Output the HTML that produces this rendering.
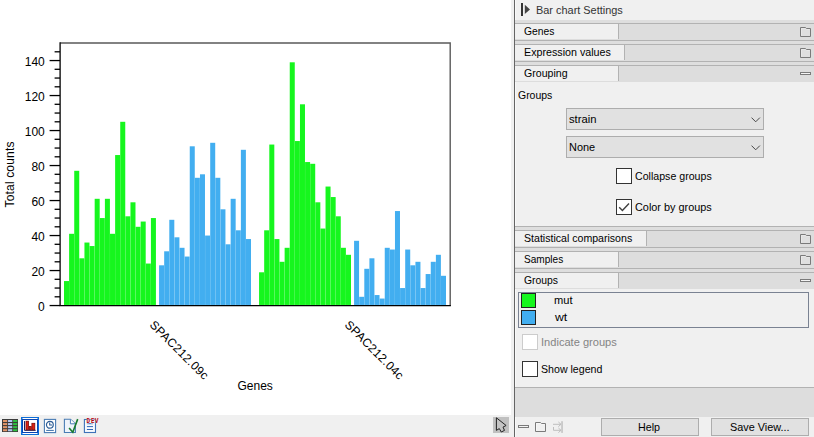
<!DOCTYPE html>
<html><head><meta charset="utf-8"><title>Bar chart</title>
<style>
html,body{margin:0;padding:0;}
body{width:814px;height:437px;overflow:hidden;background:#fff;position:relative;font-family:"Liberation Sans",sans-serif;}
.abs{position:absolute;display:block}
.chart{position:absolute;left:0;top:0;display:block}
.strip{position:absolute;left:511px;top:0;width:3px;height:437px;background:#f0f0f0}
.vline{position:absolute;left:514px;top:0;width:1px;height:437px;background:#646464}
.panelbg{position:absolute;left:515px;top:0;width:299px;height:437px;background:#f0f0f0;box-shadow:inset 1px 0 0 #f9f9f9}
.t{position:absolute;white-space:nowrap;line-height:14px;height:14px;transform-origin:0 50%;font-family:"Liberation Sans",sans-serif}
.band{position:absolute;left:515px;width:299px;background:#dedede}
.row{position:absolute;left:515px;width:299px;height:16px;background:#dddddd;border-top:1px solid #b2b2b2;}
.row.closed{border-bottom:1px solid #b2b2b2}
.row .lab{position:absolute;left:0;top:0;height:15px;background:#f0f0f0;border-right:1px solid #b2b2b2}
.icw{position:absolute;line-height:0}
.ic{display:block}
.dd{position:absolute;left:566px;width:196px;height:20px;background:#e1e1e1;border:1px solid #adadad}
.chev{position:absolute;left:184px;top:8px;display:block}
.cb{position:absolute;width:14px;height:14px;background:#fff;border:1px solid #333}
.cb svg{display:block}
.cb.dis{border-color:#cccccc}
.hl{position:absolute;left:515px;width:299px;height:1px;background:#b2b2b2}
.list{position:absolute;left:518px;top:292px;width:289px;height:34px;border:1px solid #7a8292;background:#f0f0f0}
.sw{position:absolute;left:521px;width:13px;height:13px;border:1px solid #222}
.band2{position:absolute;left:515px;top:388px;width:299px;height:29px;background:#dddddd}
.btn{position:absolute;top:418px;height:16px;background:#e1e1e1;border:1px solid #adadad}
.tbbg{position:absolute;left:0;top:415px;width:511px;height:22px;background:#f0f0f0}
</style></head>
<body>
<svg class="chart" width="511" height="415" viewBox="0 0 511 415">
<g>
<rect x="64.00" y="281.05" width="5.01" height="23.90" fill="#16f61e"/>
<rect x="69.11" y="233.80" width="5.01" height="71.15" fill="#16f61e"/>
<rect x="74.23" y="170.80" width="5.01" height="134.15" fill="#16f61e"/>
<rect x="79.34" y="258.30" width="5.01" height="46.65" fill="#16f61e"/>
<rect x="84.45" y="242.55" width="5.01" height="62.40" fill="#16f61e"/>
<rect x="89.56" y="246.05" width="5.01" height="58.90" fill="#16f61e"/>
<rect x="94.68" y="198.80" width="5.01" height="106.15" fill="#16f61e"/>
<rect x="99.79" y="218.05" width="5.01" height="86.90" fill="#16f61e"/>
<rect x="104.90" y="198.80" width="5.01" height="106.15" fill="#16f61e"/>
<rect x="110.02" y="233.80" width="5.01" height="71.15" fill="#16f61e"/>
<rect x="115.13" y="155.05" width="5.01" height="149.90" fill="#16f61e"/>
<rect x="120.24" y="121.80" width="5.01" height="183.15" fill="#16f61e"/>
<rect x="125.36" y="216.30" width="5.01" height="88.65" fill="#16f61e"/>
<rect x="130.47" y="202.30" width="5.01" height="102.65" fill="#16f61e"/>
<rect x="135.58" y="226.80" width="5.01" height="78.15" fill="#16f61e"/>
<rect x="140.69" y="221.55" width="5.01" height="83.40" fill="#16f61e"/>
<rect x="145.81" y="263.55" width="5.01" height="41.40" fill="#16f61e"/>
<rect x="150.92" y="218.05" width="5.01" height="86.90" fill="#16f61e"/>
<rect x="159.07" y="265.30" width="5.01" height="39.65" fill="#42aef0"/>
<rect x="164.18" y="251.30" width="5.01" height="53.65" fill="#42aef0"/>
<rect x="169.30" y="219.80" width="5.01" height="85.15" fill="#42aef0"/>
<rect x="174.41" y="237.30" width="5.01" height="67.65" fill="#42aef0"/>
<rect x="179.52" y="247.80" width="5.01" height="57.15" fill="#42aef0"/>
<rect x="184.63" y="256.55" width="5.01" height="48.40" fill="#42aef0"/>
<rect x="189.75" y="146.30" width="5.01" height="158.65" fill="#42aef0"/>
<rect x="194.86" y="177.80" width="5.01" height="127.15" fill="#42aef0"/>
<rect x="199.97" y="174.30" width="5.01" height="130.65" fill="#42aef0"/>
<rect x="205.09" y="235.55" width="5.01" height="69.40" fill="#42aef0"/>
<rect x="210.20" y="142.80" width="5.01" height="162.15" fill="#42aef0"/>
<rect x="215.31" y="177.80" width="5.01" height="127.15" fill="#42aef0"/>
<rect x="220.43" y="209.30" width="5.01" height="95.65" fill="#42aef0"/>
<rect x="225.54" y="244.30" width="5.01" height="60.65" fill="#42aef0"/>
<rect x="230.65" y="198.80" width="5.01" height="106.15" fill="#42aef0"/>
<rect x="235.76" y="230.30" width="5.01" height="74.65" fill="#42aef0"/>
<rect x="240.88" y="149.80" width="5.01" height="155.15" fill="#42aef0"/>
<rect x="245.99" y="239.05" width="5.01" height="65.90" fill="#42aef0"/>
<rect x="259.07" y="272.30" width="5.01" height="32.65" fill="#16f61e"/>
<rect x="264.18" y="230.30" width="5.01" height="74.65" fill="#16f61e"/>
<rect x="269.30" y="144.55" width="5.01" height="160.40" fill="#16f61e"/>
<rect x="274.41" y="239.05" width="5.01" height="65.90" fill="#16f61e"/>
<rect x="279.52" y="261.80" width="5.01" height="43.15" fill="#16f61e"/>
<rect x="284.63" y="247.80" width="5.01" height="57.15" fill="#16f61e"/>
<rect x="289.75" y="62.30" width="5.01" height="242.65" fill="#16f61e"/>
<rect x="294.86" y="141.05" width="5.01" height="163.90" fill="#16f61e"/>
<rect x="299.97" y="104.30" width="5.01" height="200.65" fill="#16f61e"/>
<rect x="305.09" y="162.05" width="5.01" height="142.90" fill="#16f61e"/>
<rect x="310.20" y="163.80" width="5.01" height="141.15" fill="#16f61e"/>
<rect x="315.31" y="202.30" width="5.01" height="102.65" fill="#16f61e"/>
<rect x="320.43" y="228.55" width="5.01" height="76.40" fill="#16f61e"/>
<rect x="325.54" y="186.55" width="5.01" height="118.40" fill="#16f61e"/>
<rect x="330.65" y="197.05" width="5.01" height="107.90" fill="#16f61e"/>
<rect x="335.76" y="216.30" width="5.01" height="88.65" fill="#16f61e"/>
<rect x="340.88" y="247.80" width="5.01" height="57.15" fill="#16f61e"/>
<rect x="345.99" y="254.80" width="5.01" height="50.15" fill="#16f61e"/>
<rect x="354.07" y="240.80" width="5.01" height="64.15" fill="#42aef0"/>
<rect x="359.18" y="296.80" width="5.01" height="8.15" fill="#42aef0"/>
<rect x="364.30" y="268.80" width="5.01" height="36.15" fill="#42aef0"/>
<rect x="369.41" y="258.30" width="5.01" height="46.65" fill="#42aef0"/>
<rect x="374.52" y="295.05" width="5.01" height="9.90" fill="#42aef0"/>
<rect x="379.63" y="298.55" width="5.01" height="6.40" fill="#42aef0"/>
<rect x="384.75" y="247.80" width="5.01" height="57.15" fill="#42aef0"/>
<rect x="389.86" y="249.55" width="5.01" height="55.40" fill="#42aef0"/>
<rect x="394.97" y="211.05" width="5.01" height="93.90" fill="#42aef0"/>
<rect x="400.09" y="288.05" width="5.01" height="16.90" fill="#42aef0"/>
<rect x="405.20" y="249.55" width="5.01" height="55.40" fill="#42aef0"/>
<rect x="410.31" y="265.30" width="5.01" height="39.65" fill="#42aef0"/>
<rect x="415.43" y="261.80" width="5.01" height="43.15" fill="#42aef0"/>
<rect x="420.54" y="288.05" width="5.01" height="16.90" fill="#42aef0"/>
<rect x="425.65" y="274.05" width="5.01" height="30.90" fill="#42aef0"/>
<rect x="430.76" y="261.80" width="5.01" height="43.15" fill="#42aef0"/>
<rect x="435.88" y="254.80" width="5.01" height="50.15" fill="#42aef0"/>
<rect x="440.99" y="275.80" width="5.01" height="29.15" fill="#42aef0"/>
</g>
<g stroke="#5a5a5a" stroke-width="1.4" fill="none">
<path d="M60.2 43 H450.2 V305.55"/>
</g>
<g stroke="#000" stroke-width="1.3" fill="none">
<path d="M60.1 42.2 V305.55 H450.9"/>
<line x1="49.6" x2="60" y1="305.55" y2="305.55"/>
<line x1="54.6" x2="60" y1="296.80" y2="296.80"/>
<line x1="54.6" x2="60" y1="288.05" y2="288.05"/>
<line x1="54.6" x2="60" y1="279.30" y2="279.30"/>
<line x1="49.6" x2="60" y1="270.55" y2="270.55"/>
<line x1="54.6" x2="60" y1="261.80" y2="261.80"/>
<line x1="54.6" x2="60" y1="253.05" y2="253.05"/>
<line x1="54.6" x2="60" y1="244.30" y2="244.30"/>
<line x1="49.6" x2="60" y1="235.55" y2="235.55"/>
<line x1="54.6" x2="60" y1="226.80" y2="226.80"/>
<line x1="54.6" x2="60" y1="218.05" y2="218.05"/>
<line x1="54.6" x2="60" y1="209.30" y2="209.30"/>
<line x1="49.6" x2="60" y1="200.55" y2="200.55"/>
<line x1="54.6" x2="60" y1="191.80" y2="191.80"/>
<line x1="54.6" x2="60" y1="183.05" y2="183.05"/>
<line x1="54.6" x2="60" y1="174.30" y2="174.30"/>
<line x1="49.6" x2="60" y1="165.55" y2="165.55"/>
<line x1="54.6" x2="60" y1="156.80" y2="156.80"/>
<line x1="54.6" x2="60" y1="148.05" y2="148.05"/>
<line x1="54.6" x2="60" y1="139.30" y2="139.30"/>
<line x1="49.6" x2="60" y1="130.55" y2="130.55"/>
<line x1="54.6" x2="60" y1="121.80" y2="121.80"/>
<line x1="54.6" x2="60" y1="113.05" y2="113.05"/>
<line x1="54.6" x2="60" y1="104.30" y2="104.30"/>
<line x1="49.6" x2="60" y1="95.55" y2="95.55"/>
<line x1="54.6" x2="60" y1="86.80" y2="86.80"/>
<line x1="54.6" x2="60" y1="78.05" y2="78.05"/>
<line x1="54.6" x2="60" y1="69.30" y2="69.30"/>
<line x1="49.6" x2="60" y1="60.55" y2="60.55"/>
<line x1="54.6" x2="60" y1="51.80" y2="51.80"/>
</g>
<g font-family="Liberation Sans, sans-serif" font-size="12" fill="#000">
<text x="44.8" y="310.55" text-anchor="end">0</text>
<text x="44.8" y="275.55" text-anchor="end">20</text>
<text x="44.8" y="240.55" text-anchor="end">40</text>
<text x="44.8" y="205.55" text-anchor="end">60</text>
<text x="44.8" y="170.55" text-anchor="end">80</text>
<text x="44.8" y="135.55" text-anchor="end">100</text>
<text x="44.8" y="100.55" text-anchor="end">120</text>
<text x="44.8" y="65.55" text-anchor="end">140</text>
<text transform="translate(14.0,174.5) rotate(-90)" text-anchor="middle" textLength="65.8" lengthAdjust="spacing">Total counts</text>
<text x="255.2" y="390" text-anchor="middle">Genes</text>
<text transform="translate(148.9,325.5) rotate(45)" textLength="77.6" lengthAdjust="spacing">SPAC212.09c</text>
<text transform="translate(344.0,325.4) rotate(45)" textLength="77.6" lengthAdjust="spacing">SPAC212.04c</text>
</g>
</svg>
<div class="tbbg"></div>
<svg class="abs" style="left:2px;top:419px" width="16" height="13" viewBox="0 0 16 13"><rect width="16" height="13" fill="#3c3c3c"/><rect x="1.00" y="1.00" width="4.2" height="2" fill="#e09468"/><rect x="6.05" y="1.00" width="4.2" height="2" fill="#b4c8f0"/><rect x="11.10" y="1.00" width="4.2" height="2" fill="#2ec040"/><rect x="1.00" y="4.07" width="4.2" height="2" fill="#e09468"/><rect x="6.05" y="4.07" width="4.2" height="2" fill="#b4c8f0"/><rect x="11.10" y="4.07" width="4.2" height="2" fill="#2ec040"/><rect x="1.00" y="7.14" width="4.2" height="2" fill="#e09468"/><rect x="6.05" y="7.14" width="4.2" height="2" fill="#b4c8f0"/><rect x="11.10" y="7.14" width="4.2" height="2" fill="#2ec040"/><rect x="1.00" y="10.21" width="4.2" height="2" fill="#e09468"/><rect x="6.05" y="10.21" width="4.2" height="2" fill="#b4c8f0"/><rect x="11.10" y="10.21" width="4.2" height="2" fill="#2ec040"/></svg>
<svg class="abs" style="left:20px;top:416px" width="20" height="20" viewBox="-1 -1 20 20">
<rect x="-1" y="-1" width="20" height="20" fill="#f8f2ec"/>
<rect x="0" y="0" width="18" height="18" fill="#0e6ed8"/>
<rect x="1.5" y="1" width="15" height="1" fill="#fff"/>
<rect x="1.5" y="16" width="15" height="1" fill="#fff"/>
<rect x="1.5" y="2.5" width="15" height="13" fill="none" stroke="#0a46b4" stroke-width="1"/>
<rect x="2" y="3" width="14" height="12" fill="#fff"/>
<path d="M3.5 4.1 V13.35 H14.7" fill="none" stroke="#141450" stroke-width="0.95"/>
<rect x="5" y="4.2" width="2.5" height="8.6" fill="#de2012" stroke="#7c0808" stroke-width="0.8"/>
<rect x="8.4" y="9.5" width="1.8" height="3.3" fill="#de2012" stroke="#7c0808" stroke-width="0.8"/>
<rect x="10.9" y="6.3" width="2.9" height="6.5" fill="#de2012" stroke="#7c0808" stroke-width="0.8"/>
</svg>
<svg class="abs" style="left:43px;top:418px" width="14" height="16" viewBox="0 0 14 16">
<rect x="1.4" y="1.4" width="11.2" height="13.2" fill="#fff" stroke="#4a7cb4" stroke-width="1.1"/>
<circle cx="6.85" cy="6.8" r="3.4" fill="#fff" stroke="#2e5e96" stroke-width="1.2"/>
<path d="M6.7 4.6 V7 H9" fill="none" stroke="#2e5e96" stroke-width="1.1"/>
<path d="M3.2 12.4 H10.8" stroke="#3a6ea8" stroke-width="1"/>
</svg>
<svg class="abs" style="left:63px;top:418px" width="16" height="16" viewBox="0 0 16 16">
<path d="M1.4 1.3 H7.4 L12.4 5.8 V14.5 H1.4 Z" fill="#eef3fa" stroke="#4a7cb4" stroke-width="1.1"/>
<path d="M7.4 1.3 V5.8 H12.4" fill="#fff" stroke="#4a7cb4" stroke-width="1"/>
<path d="M6.1 10 L9.8 14.3 L14.7 1.1" fill="none" stroke="#187a2e" stroke-width="1.6"/>
</svg>
<svg class="abs" style="left:83px;top:417px" width="17" height="17" viewBox="0 0 17 17">
<rect x="1.4" y="2.5" width="11.1" height="13" fill="#f6f9fd" stroke="#3e72b8" stroke-width="1.1"/>
<path d="M3.9 6.7 H10 M3.9 9.6 H10 M3.9 12.5 H10" stroke="#3266b8" stroke-width="1"/>
<g font-family="Liberation Mono, monospace" font-weight="bold" font-size="7" fill="#b00010" stroke="#f8eeee" stroke-width="0.8" paint-order="stroke"><text x="3.6" y="5.8" textLength="3.5" lengthAdjust="spacingAndGlyphs">D</text><text x="7.9" y="5.8" textLength="3.5" lengthAdjust="spacingAndGlyphs">E</text><text x="11.8" y="5.8" textLength="3.7" lengthAdjust="spacingAndGlyphs">V</text></g>
</svg>
<svg class="abs" style="left:493px;top:417px" width="16" height="16" viewBox="0 0 16 16">
<rect width="16" height="16" fill="#c0c0c0"/>
<path d="M3.4 0.8 V13.4 L6.3 11.6 L8.3 15 L11.5 13.4 L10 10.1 L13.1 8.5 Z" fill="#c4c4c4" stroke="#222" stroke-width="1" stroke-linejoin="miter"/>
</svg>
<div class="strip"></div><div class="vline"></div>
<div class="panelbg"></div>
<svg class="abs" style="left:520px;top:2px" width="12" height="15" viewBox="0 0 12 15"><rect x="1" y="1" width="2" height="13" fill="#333"/><path d="M4.8 2.8 L10 7.4 L4.8 12 Z" fill="#444"/></svg>
<span class="t " style="left:535.60px;top:3.36px;font-size:11px;color:#333;transform:scaleX(0.9927)">Bar chart Settings</span>
<div class="band" style="top:20px;height:3px"></div>
<div class="row closed" style="top:23px"><div class="lab" style="width:103px"></div></div><span class="t " style="left:524.18px;top:24.36px;font-size:11px;color:#000;transform:scaleX(0.9378)">Genes</span><div class="icw" style="left:800px;top:27px"><svg class="ic" width="11" height="10" viewBox="0 0 11 10"><path d="M0.5 0.5 H5.5 L6.5 1.5 H10.5 V9.5 H0.5 Z" fill="#dfdfdf" stroke="#7a7a7a" stroke-width="1"/><path d="M1.5 8.5 V1.5 H5 M6.5 2.5 H9.5" fill="none" stroke="#e8e8e8" stroke-width="1"/></svg></div>
<div class="band" style="top:41px;height:3px"></div>
<div class="row closed" style="top:44px"><div class="lab" style="width:109px"></div></div><span class="t " style="left:523.82px;top:45.36px;font-size:11px;color:#000;transform:scaleX(0.9731)">Expression values</span><div class="icw" style="left:800px;top:48px"><svg class="ic" width="11" height="10" viewBox="0 0 11 10"><path d="M0.5 0.5 H5.5 L6.5 1.5 H10.5 V9.5 H0.5 Z" fill="#dfdfdf" stroke="#7a7a7a" stroke-width="1"/><path d="M1.5 8.5 V1.5 H5 M6.5 2.5 H9.5" fill="none" stroke="#e8e8e8" stroke-width="1"/></svg></div>
<div class="band" style="top:62px;height:3px"></div>
<div class="row" style="top:65px"><div class="lab" style="width:103px"></div></div><span class="t " style="left:524.17px;top:66.36px;font-size:11px;color:#000;transform:scaleX(0.9617)">Grouping</span><div class="icw" style="left:800px;top:72px"><svg class="ic" width="11" height="3" viewBox="0 0 11 3"><rect x="0.5" y="0.5" width="10" height="2" fill="#f4f4f4" stroke="#7a7a7a" stroke-width="1"/></svg></div>
<span class="t " style="left:518.37px;top:88.36px;font-size:11px;color:#000;transform:scaleX(0.9510)">Groups</span>
<div class="dd" style="top:108px"><svg class="chev" width="10" height="6" viewBox="0 0 10 6"><path d="M0.5 0.6 L4.7 4.8 L8.9 0.6" fill="none" stroke="#484848" stroke-width="1"/></svg></div>
<span class="t " style="left:569.29px;top:112.36px;font-size:11px;color:#000;transform:scaleX(1.0202)">strain</span>
<div class="dd" style="top:136px"><svg class="chev" width="10" height="6" viewBox="0 0 10 6"><path d="M0.5 0.6 L4.7 4.8 L8.9 0.6" fill="none" stroke="#484848" stroke-width="1"/></svg></div>
<span class="t " style="left:568.71px;top:140.36px;font-size:11px;color:#000;transform:scaleX(0.9918)">None</span>
<div class="cb" style="left:616px;top:168px"></div>
<span class="t " style="left:635.16px;top:169.36px;font-size:11px;color:#000;transform:scaleX(0.9652)">Collapse groups</span>
<div class="cb" style="left:616px;top:199px"><svg width="14" height="14" viewBox="0 0 14 14"><path d="M2.2 7.2 L5.4 10.4 L12 3.4" fill="none" stroke="#404040" stroke-width="1.4"/></svg></div>
<span class="t " style="left:635.15px;top:200.36px;font-size:11px;color:#000;transform:scaleX(0.9884)">Color by groups</span>
<div class="hl" style="top:226px"></div>
<div class="band" style="top:227px;height:3px"></div>
<div class="row closed" style="top:230px"><div class="lab" style="width:131px"></div></div><span class="t " style="left:524.22px;top:231.36px;font-size:11px;color:#000;transform:scaleX(0.9616)">Statistical comparisons</span><div class="icw" style="left:800px;top:234px"><svg class="ic" width="11" height="10" viewBox="0 0 11 10"><path d="M0.5 0.5 H5.5 L6.5 1.5 H10.5 V9.5 H0.5 Z" fill="#dfdfdf" stroke="#7a7a7a" stroke-width="1"/><path d="M1.5 8.5 V1.5 H5 M6.5 2.5 H9.5" fill="none" stroke="#e8e8e8" stroke-width="1"/></svg></div>
<div class="band" style="top:248px;height:3px"></div>
<div class="row closed" style="top:251px"><div class="lab" style="width:103px"></div></div><span class="t " style="left:524.24px;top:252.36px;font-size:11px;color:#000;transform:scaleX(0.9165)">Samples</span><div class="icw" style="left:800px;top:255px"><svg class="ic" width="11" height="10" viewBox="0 0 11 10"><path d="M0.5 0.5 H5.5 L6.5 1.5 H10.5 V9.5 H0.5 Z" fill="#dfdfdf" stroke="#7a7a7a" stroke-width="1"/><path d="M1.5 8.5 V1.5 H5 M6.5 2.5 H9.5" fill="none" stroke="#e8e8e8" stroke-width="1"/></svg></div>
<div class="band" style="top:269px;height:3px"></div>
<div class="row" style="top:272px"><div class="lab" style="width:103px"></div></div><span class="t " style="left:524.18px;top:273.36px;font-size:11px;color:#000;transform:scaleX(0.9425)">Groups</span><div class="icw" style="left:800px;top:279px"><svg class="ic" width="11" height="3" viewBox="0 0 11 3"><rect x="0.5" y="0.5" width="10" height="2" fill="#f4f4f4" stroke="#7a7a7a" stroke-width="1"/></svg></div>
<div class="list"></div>
<div class="sw" style="top:293px;background:#16f61e"></div>
<div class="sw" style="top:310px;background:#42aef0"></div>
<span class="t " style="left:554.16px;top:293.06px;font-size:11px;color:#000;transform:scaleX(1.0100)">mut</span>
<span class="t " style="left:554.92px;top:310.16px;font-size:11px;color:#000;transform:scaleX(1.1156)">wt</span>
<div class="cb dis" style="left:522px;top:334px"></div>
<span class="t " style="left:540.88px;top:334.76px;font-size:11px;color:#848484;transform:scaleX(1.0081)">Indicate groups</span>
<div class="cb" style="left:522px;top:361px"></div>
<span class="t " style="left:541.42px;top:361.66px;font-size:11px;color:#000;transform:scaleX(0.9649)">Show legend</span>
<div class="hl" style="top:387px"></div>
<div class="band2"></div>
<div class="icw" style="left:518px;top:425px"><svg class="ic" width="11" height="3" viewBox="0 0 11 3"><rect x="0.5" y="0.5" width="10" height="2" fill="#f4f4f4" stroke="#7a7a7a" stroke-width="1"/></svg></div>
<div class="icw" style="left:535px;top:422px"><svg class="ic" width="11" height="10" viewBox="0 0 11 10"><path d="M0.5 0.5 H5.5 L6.5 1.5 H10.5 V9.5 H0.5 Z" fill="#f0f0f0" stroke="#7a7a7a" stroke-width="1"/><path d="M1.5 8.5 V1.5 H5 M6.5 2.5 H9.5" fill="none" stroke="#f6f6f6" stroke-width="1"/></svg></div>
<svg class="abs" style="left:552px;top:421px" width="12" height="13" viewBox="0 0 12 13"><rect x="9.2" y="0.2" width="1.7" height="11.7" fill="#c6c6c6"/><g fill="none" stroke="#bebebe" stroke-width="1"><path d="M1 3.3 H9 M6.4 1 L9 3.3 L6.4 5.6"/><path d="M1.5 6 V9.3 H9 M6.4 7 L9 9.3 L6.4 11.6"/></g></svg>
<div class="btn" style="left:601px;width:96px"></div>
<span class="t " style="left:638.42px;top:420.06px;font-size:11px;color:#000;transform:scaleX(0.9738)">Help</span>
<div class="btn" style="left:711px;width:96px"></div>
<span class="t " style="left:729.91px;top:420.06px;font-size:11px;color:#000;transform:scaleX(0.9859)">Save View...</span>
</body></html>
